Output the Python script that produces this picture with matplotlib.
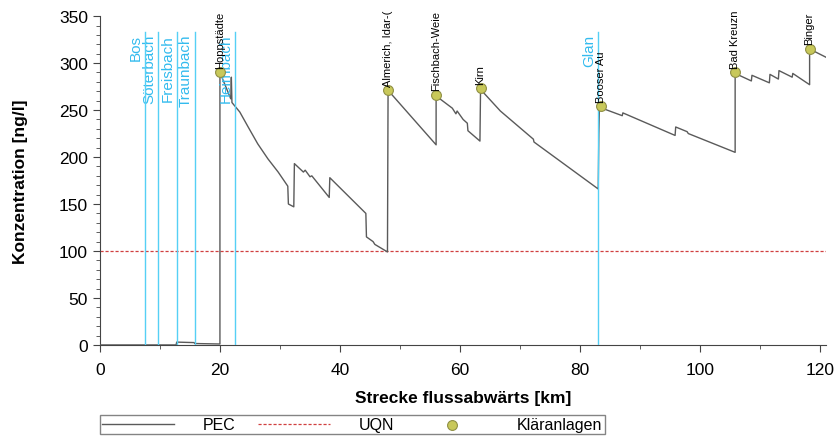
import matplotlib.pyplot as plt
from matplotlib.ticker import MultipleLocator

plt.rcParams['font.family'] = ['Liberation Sans', 'DejaVu Sans']

# PEC profile along the river (km, ng/l)
pec_km = [0, 12.7, 12.8, 15.7, 15.8, 20.0, 20.0, 21.8, 21.9, 22.0, 23.3, 24.7, 26.3,
          28.0, 29.7, 31.3, 31.4, 32.3, 32.4, 33.9, 34.2, 35.0, 35.3, 38.2, 38.3,
          44.3, 44.4, 45.5, 45.8, 47.9, 48.0, 56.0, 56.0, 58.7, 59.3, 59.5, 60.5,
          61.2, 61.3, 63.3, 63.4, 66.7, 72.2, 72.3, 83.0, 83.1, 83.2, 87.0, 87.1,
          95.8, 95.9, 97.8, 98.0, 105.8, 105.8, 108.5, 108.6, 111.5, 111.6, 113.0,
          113.1, 115.3, 115.4, 118.2, 118.2, 121.0]
pec_val = [0, 0, 3, 2.5, 1.5, 1, 290, 262, 285, 258, 248, 232, 214,
           198, 184, 169, 150, 147, 193, 184, 186, 179, 180, 157, 178,
           140, 115, 110, 107, 99, 271, 213, 265, 252, 246, 249, 240,
           236, 228, 217, 272, 249, 219, 216, 166, 225, 253, 244, 247,
           223, 232, 227, 225, 205, 289, 281, 287, 279, 288, 283,
           292, 285, 289, 277, 315, 306]

uqn = 100

# Kläranlagen
ka_names = ['Hoppstädte', 'Almerich, Idar-(', 'Fischbach-Weie', 'Kirn',
            'Booser Au', 'Bad Kreuzn', 'Binger']
ka_km = [20.0, 48.0, 56.0, 63.4, 83.5, 105.8, 118.2]
ka_val = [290, 271, 266, 273, 254, 290, 315]

# tributaries
trib_names = ['Bos', 'Söterbach', 'Freisbach', 'Traunbach', 'Heimbach', 'Glan']
trib_km = [7.5, 9.7, 12.8, 15.8, 22.5, 83.0]
trib_top = 333

fig = plt.figure(figsize=(8.39, 4.39), dpi=100)
ax = fig.add_axes([0.119, 0.212, 0.866, 0.749])

ax.plot(pec_km, pec_val, color='#5a5a5a', lw=1.0, label='PEC', zorder=3)
ax.axhline(uqn, color='#d04040', lw=0.9, ls=(0, (2.5, 1.5)), label='UQN', zorder=2)

for name, km in zip(trib_names, trib_km):
    ax.plot([km, km], [0, trib_top], color='#55d0f5', lw=1.0, zorder=4)
    ax.text(km - 0.35, trib_top - 2, name, rotation=90, ha='right', va='top',
            color='#33bbee', fontsize=11)

ax.scatter(ka_km, ka_val, s=50, color='#c8c85a', edgecolors='#8f8f45',
           linewidths=0.8, label='Kläranlagen', zorder=5)
for name, km, v in zip(ka_names, ka_km, ka_val):
    ax.text(km, v + 5, name, rotation=90, ha='center', va='bottom',
            fontsize=8, color='black', zorder=6)

ax.set_xlim(0, 121)
ax.set_ylim(0, 350)
ax.xaxis.set_major_locator(MultipleLocator(20))
ax.xaxis.set_minor_locator(MultipleLocator(10))
ax.yaxis.set_major_locator(MultipleLocator(50))
ax.yaxis.set_minor_locator(MultipleLocator(10))
ax.tick_params(labelsize=12.5, color='#444444', length=5)
ax.tick_params(axis='x', pad=7)
ax.tick_params(which='minor', length=3, color='#444444')
for s in ['top', 'right']:
    ax.spines[s].set_visible(False)
for s in ['left', 'bottom']:
    ax.spines[s].set_color('#444444')

ax.set_xlabel('Strecke flussabwärts [km]', fontsize=12.5, fontweight='bold', labelpad=10)
ax.set_ylabel('Konzentration [ng/l]', fontsize=12.5, fontweight='bold', labelpad=22)

handles, labels = ax.get_legend_handles_labels()
leg = fig.legend(handles, labels, ncol=3, loc='lower left', mode='expand',
                 bbox_to_anchor=(0.119, 0.008, 0.602, 0.045), borderaxespad=0,
                 fontsize=11.5, fancybox=False, edgecolor='#666666', borderpad=0.15,
                 handlelength=4.5, handletextpad=1.8, frameon=True)

fig.savefig('out.png')
